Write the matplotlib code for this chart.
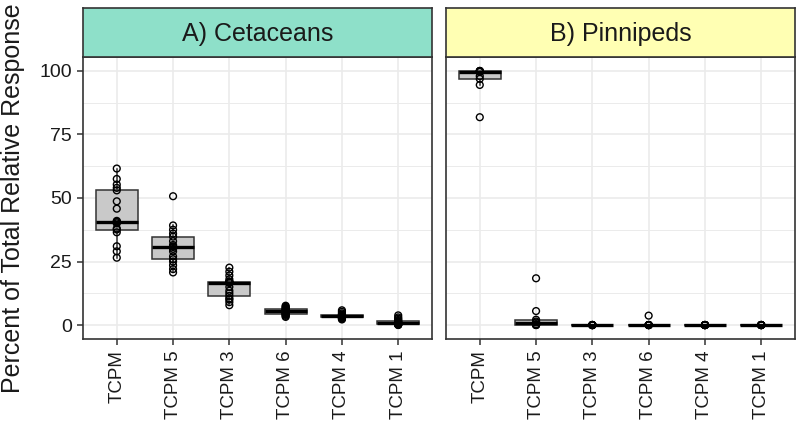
import numpy as np
import matplotlib
matplotlib.use("Agg")
import matplotlib.pyplot as plt

plt.rcParams['font.family'] = ['Liberation Sans', 'DejaVu Sans']

# congeners in plotting order
congeners = ['TCPM', 'TCPM 5', 'TCPM 3', 'TCPM 6', 'TCPM 4', 'TCPM 1']

# percent of total relative response
cetaceans = [
    [26.5, 29, 31, 36.5, 37.6, 38, 40, 40.5, 40.7, 41, 45.8, 48.7, 53, 54, 55.3, 57.5, 61.6],
    [20.7, 22, 23.5, 25, 25.9, 27, 29, 30, 30.7, 31, 31.5, 33, 34.8, 36, 37.5, 39.2, 50.7],
    [7.8, 9, 10, 10.5, 11.5, 12.5, 13.5, 15, 16.5, 16.8, 16.9, 17, 17.1, 18, 19.5, 21, 22.6],
    [3.2, 3.6, 4, 4.2, 4.4, 4.7, 5, 5.2, 5.4, 5.5, 5.7, 6, 6.2, 6.5, 6.8, 7.2, 7.6],
    [2.2, 2.5, 2.8, 2.9, 3.0, 3.2, 3.3, 3.4, 3.5, 3.6, 3.7, 3.8, 3.9, 4.2, 4.6, 5.2, 5.8],
    [0, 0.1, 0.2, 0.25, 0.3, 0.4, 0.5, 0.6, 0.8, 0.9, 1.0, 1.2, 1.6, 2.0, 2.5, 3.0, 3.8],
]
pinnipeds = [
    [81.8, 94.5, 96.9, 98, 99.6, 99.8, 100, 100, 100],
    [0, 0, 0.05, 0.15, 0.3, 1.0, 1.4, 2.1, 5.5, 18.4],
    [0, 0, 0, 0, 0, 0, 0, 0, 0],
    [0, 0, 0, 0, 0, 0, 0, 0, 3.7],
    [0, 0, 0, 0, 0, 0, 0, 0, 0],
    [0, 0, 0, 0, 0, 0, 0, 0, 0],
]

panels = [('A) Cetaceans', cetaceans, '#8EE0C9'), ('B) Pinnipeds', pinnipeds, '#FFFFB3')]
lefts = [83 / 800, 446 / 800]
pw = 349 / 800
pb, ph = 1 - 339 / 425, (339 - 57) / 425
sh = (57 - 8) / 425

fig = plt.figure(figsize=(8, 4.25), dpi=100)
dark = '#333333'
pos = np.arange(1, len(congeners) + 1)

for i, (title, data, scol) in enumerate(panels):
    ax = fig.add_axes([lefts[i], pb, pw, ph])
    ax.set_facecolor('white')
    ax.boxplot(data, positions=pos, widths=0.75, patch_artist=True, showfliers=False,
               whis=1.5, showcaps=False,
               boxprops=dict(facecolor='#C9C9C9', edgecolor=dark, linewidth=1.1),
               medianprops=dict(color='black', linewidth=2.4),
               whiskerprops=dict(color=dark, linewidth=1.1), zorder=2)
    for p, vals in zip(pos, data):
        ax.scatter(np.full(len(vals), p), vals, s=24, facecolors='none',
                   edgecolors='black', linewidths=1.0, zorder=3)
    ax.set_xlim(0.4, 6.6)
    ax.set_ylim(-5.5, 105.5)
    ax.set_yticks([0, 25, 50, 75, 100])
    ax.set_yticks([12.5, 37.5, 62.5, 87.5], minor=True)
    ax.set_xticks(pos)
    ax.set_xticklabels(congeners, rotation=90, fontsize=13.5)
    ax.grid(True, which='major', color='#EBEBEB', linewidth=1.2, zorder=0)
    ax.grid(True, which='minor', axis='y', color='#EBEBEB', linewidth=0.7, zorder=0)
    ax.set_axisbelow(True)
    ax.tick_params(axis='both', which='major', length=4.5, color=dark,
                   labelcolor='#1A1A1A', width=1.1, pad=3.5)
    ax.tick_params(axis='y', which='major', labelsize=14)
    ax.tick_params(axis='y', which='minor', length=0)
    for s in ax.spines.values():
        s.set_color(dark)
        s.set_linewidth(1.2)
    if i > 0:
        ax.set_yticklabels([])
        ax.tick_params(axis='y', length=0)

    sax = fig.add_axes([lefts[i], pb + ph, pw, sh])
    sax.set_facecolor(scol)
    sax.set_xticks([])
    sax.set_yticks([])
    for s in sax.spines.values():
        s.set_color(dark)
        s.set_linewidth(1.2)
    sax.text(0.5, 0.47, title, ha='center', va='center', fontsize=18,
             color='#1A1A1A', transform=sax.transAxes)

fig.text(13 / 800, pb + ph / 2, 'Percent of Total Relative Response', rotation=90,
         ha='center', va='center', fontsize=18, color='#1A1A1A')

fig.savefig('out.png', dpi=100)
